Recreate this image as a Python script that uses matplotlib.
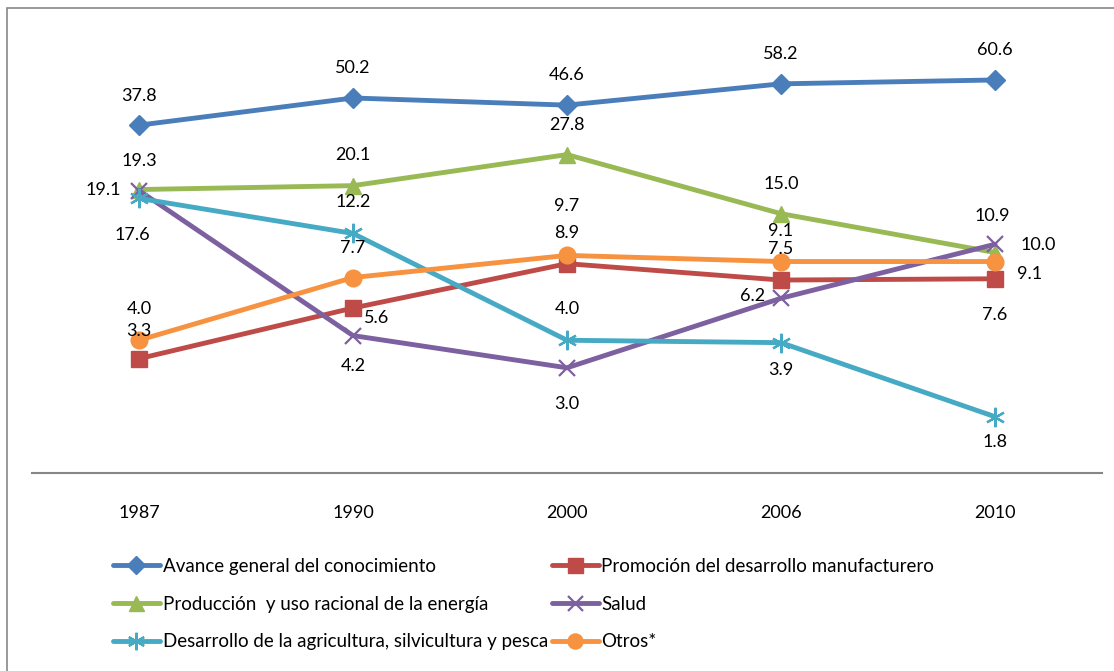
import matplotlib.pyplot as plt
from matplotlib.patches import Rectangle

plt.rcParams['font.family'] = ['Lato', 'DejaVu Sans']

# datos (porcentaje)
years = ['1987', '1990', '2000', '2006', '2010']
avance = [37.8, 50.2, 46.6, 58.2, 60.6]
promocion = [3.3, 5.6, 8.9, 7.5, 7.6]
produccion = [19.3, 20.1, 27.8, 15.0, 10.0]
salud = [19.1, 4.2, 3.0, 6.2, 10.9]
agricultura = [17.6, 12.2, 4.0, 3.9, 1.8]
otros = [4.0, 7.7, 9.7, 9.1, 9.1]

names = ['Avance general del conocimiento',
         'Promoción del desarrollo manufacturero',
         'Producción  y uso racional de la energía',
         'Salud',
         'Desarrollo de la agricultura, silvicultura y pesca',
         'Otros*']

# estilos: color, marcador, tamaño
estilos = [
    ('#4A7EBB', 'D', 10, 1),
    ('#BE4B48', 's', 12, 1),
    ('#98B954', '^', 12, 1),
    ('#7D60A0', 'x', 12, 1.6),
    ('#46AAC5', (6, 2, 0), 14, 1.6),
    ('#F69240', 'o', 12, 1),
]

# desplazamiento de las etiquetas (px)
offs = [
    [(0, 29), (0, 30), (0, 30), (0, 30), (0, 30)],
    [(0, 28), (24, -10), (0, 31), (0, 31), (0, -36)],
    [(0, 29), (0, 31), (0, 30), (0, 30), (43, 8)],
    [(-36, 1), (0, -30), (0, -36), (-28, 2), (-3, 28)],
    [(-7, -37), (0, 31), (0, 31), (0, -27), (0, -25)],
    [(0, 31), (0, 30), (0, 49), (0, 31), (35, -12)],
]

series = [avance, promocion, produccion, salud, agricultura, otros]

fig = plt.figure(figsize=(11.14, 6.71), dpi=100)
ax = fig.add_axes([32 / 1114, 1 - 473 / 671, 1070 / 1114, 441 / 671])

x = list(range(len(years)))
handles = []
for i, s in enumerate(series):
    c, m, ms, mew = estilos[i]
    h, = ax.plot(x, s, color=c, lw=3.5, marker=m, ms=ms, mec=c, mfc=c,
                 mew=mew, label=names[i], solid_capstyle='round')
    handles.append(h)
    for j, v in enumerate(s):
        dx, dy = offs[i][j]
        ax.annotate('%.1f' % v, (j, v), xytext=(dx * 0.72, dy * 0.72),
                    textcoords='offset points', ha='center', va='center',
                    fontsize=13, color='black')

ax.set_yscale('log')
ax.set_ylim(1, 100)
ax.set_xlim(-0.5, 4.5)
ax.set_xticks(x)
ax.set_xticklabels(years, fontsize=13)
ax.tick_params(axis='x', length=0, pad=23)
ax.yaxis.set_visible(False)
for sp in ['top', 'right', 'left']:
    ax.spines[sp].set_visible(False)
ax.spines['bottom'].set_color('#868686')
ax.spines['bottom'].set_linewidth(1.5)
ax.patch.set_alpha(0)

orden = [0, 2, 4, 1, 3, 5]
fig.legend([handles[k] for k in orden], [names[k] for k in orden],
           loc='upper left', bbox_to_anchor=(113 / 1114, 1 - 558 / 671),
           ncol=2, frameon=False, fontsize=13.5, handlelength=2.5,
           handletextpad=0.15, labelspacing=1.1, columnspacing=0.2,
           borderpad=0, borderaxespad=0, markerscale=0.9)

fig.patches.append(Rectangle((7 / 1114, -0.1), 1.2, 1.1 - 7.5 / 671,
                             transform=fig.transFigure, fill=False,
                             edgecolor='#878787', lw=1.2))

fig.savefig('out.png', dpi=100)
